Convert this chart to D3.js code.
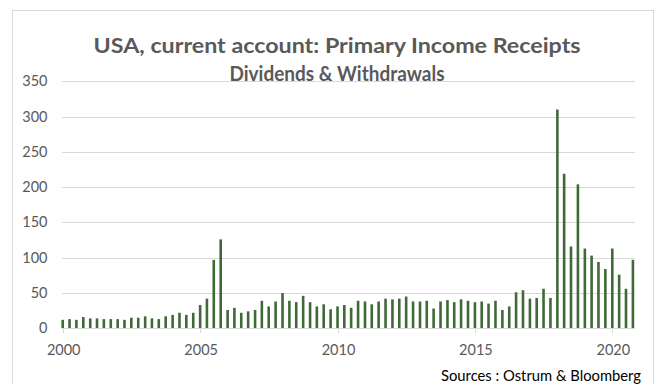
<!DOCTYPE html>
<html>
<head>
<meta charset="utf-8">
<script src="https://cdn.jsdelivr.net/npm/d3@7"></script>
<style>
  body { margin: 0; background: #fff; }
  text { font-family: Lato, "Open Sans", sans-serif; }
</style>
</head>
<body>
<svg id="chart" width="658" height="384"></svg>
<script>
// quarterly receipts, 2000Q1 .. 2020Q4 (USD bn)
const startDate = new Date(2000, 0, 1);
const endDate = new Date(2021, 0, 1);
const values = [
  12, 13, 12, 16, 14, 14, 13, 13, 13, 12, 15, 15, 17, 14, 13, 17,
  19, 22, 19, 22, 33, 42, 97, 126, 26, 29, 22, 24, 26, 39, 31, 38,
  50, 39, 37, 46, 37, 31, 34, 27, 31, 33, 29, 39, 38, 34, 38, 42,
  41, 42, 45, 38, 38, 39, 28, 38, 40, 37, 41, 39, 37, 38, 35, 39,
  26, 31, 51, 54, 42, 43, 56, 43, 310, 219, 116, 204, 113, 103, 94, 84,
  113, 76, 56, 97
];
const yTicks = [0, 50, 100, 150, 200, 250, 300, 350];
const xTickYears = [2000, 2005, 2010, 2015, 2020];
const titleLines = ["USA, current account: Primary Income Receipts", "Dividends & Withdrawals"];
const sourceText = "Sources : Ostrum & Bloomberg";

const quarters = d3.timeMonth.every(3).range(startDate, endDate);
const data = quarters.map((d, i) => ({ date: d, value: values[i] }));

const svg = d3.select("#chart");

svg.append("rect")
  .attr("x", 12.5).attr("y", 10.5)
  .attr("width", 641).attr("height", 390)
  .attr("fill", "#fff")
  .attr("stroke", "#d9d9d9");

const x = d3.scaleTime()
  .domain([new Date(2000, 0, 1), new Date(2020, 0, 1)])
  .range([62.7, 612.3]);

const y = d3.scaleLinear()
  .domain([0, 350])
  .range([328.3, 81.3]);

const plotLeft = 62, plotRight = 635;

// gridlines
svg.append("g")
  .selectAll("line")
  .data(yTicks.filter(d => d > 0))
  .join("line")
  .attr("x1", plotLeft).attr("x2", plotRight)
  .attr("y1", d => Math.round(y(d)) + 0.5)
  .attr("y2", d => Math.round(y(d)) + 0.5)
  .attr("stroke", "#d9d9d9")
  .attr("stroke-width", 1);

// y labels
svg.append("g")
  .selectAll("text")
  .data(yTicks)
  .join("text")
  .attr("x", 47.5)
  .attr("y", d => y(d) + 5)
  .attr("text-anchor", "end")
  .attr("font-size", 14.5)
  .attr("fill", "#595959")
  .text(d => d);

// bars
const barW = 2.6;
svg.append("g")
  .selectAll("rect")
  .data(data)
  .join("rect")
  .attr("x", d => x(d.date) - barW / 2)
  .attr("y", d => y(d.value))
  .attr("width", barW)
  .attr("height", d => y(0) - y(d.value))
  .attr("fill", "#3f6a37");

// x axis line + ticks
svg.append("line")
  .attr("x1", plotLeft).attr("x2", plotRight)
  .attr("y1", 328.5).attr("y2", 328.5)
  .attr("stroke", "#d9d9d9");

const xYears = xTickYears.map(yr => new Date(yr, 0, 1));
svg.append("g")
  .selectAll("line")
  .data(xYears)
  .join("line")
  .attr("x1", d => Math.round(x(d)) + 0.5)
  .attr("x2", d => Math.round(x(d)) + 0.5)
  .attr("y1", 328.5).attr("y2", 333)
  .attr("stroke", "#d9d9d9");

svg.append("g")
  .selectAll("text")
  .data(xYears)
  .join("text")
  .attr("x", d => x(d) + 1)
  .attr("y", 355)
  .attr("text-anchor", "middle")
  .attr("font-size", 14.5)
  .attr("fill", "#595959")
  .text(d3.timeFormat("%Y"));

// title
const titleWidths = [487, 215];
svg.append("g")
  .selectAll("text")
  .data(titleLines)
  .join("text")
  .attr("x", 337)
  .attr("y", (d, i) => 53 + i * 28)
  .attr("text-anchor", "middle")
  .attr("font-size", 21)
  .attr("font-weight", "bold")
  .attr("fill", "#595959")
  .attr("textLength", (d, i) => titleWidths[i])
  .attr("lengthAdjust", "spacingAndGlyphs")
  .text(d => d);

svg.append("text")
  .attr("x", 641)
  .attr("y", 381)
  .attr("text-anchor", "end")
  .attr("font-size", 15)
  .attr("fill", "#000")
  .attr("textLength", 200)
  .attr("lengthAdjust", "spacingAndGlyphs")
  .text(sourceText);
</script>
</body>
</html>
